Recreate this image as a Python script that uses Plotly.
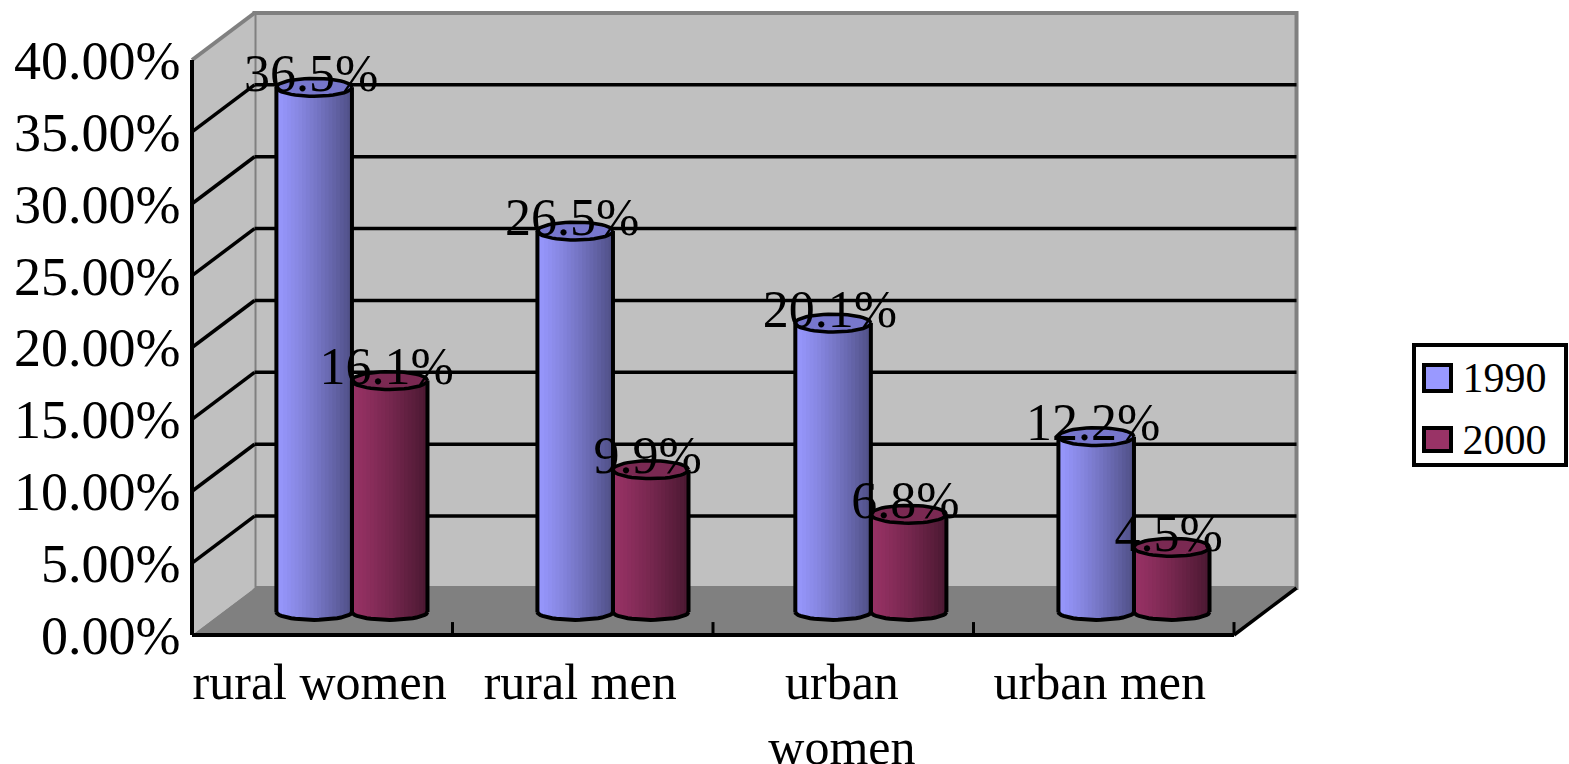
import numpy as np
import plotly.graph_objects as go

categories = ["rural women", "rural men", "urban<br>women", "urban men"]
values_1990 = [36.5, 26.5, 20.1, 12.2]
values_2000 = [16.1, 9.9, 6.8, 4.5]
labels_1990 = ["36.5%", "26.5%", "20.1%", "12.2%"]
labels_2000 = ["16.1%", "9.9%", "6.8%", "4.5%"]
y_ticks = [0, 5, 10, 15, 20, 25, 30, 35, 40]
y_tick_labels = ["0.00%", "5.00%", "10.00%", "15.00%", "20.00%", "25.00%", "30.00%", "35.00%", "40.00%"]
series_names = ["1990", "2000"]
series_colors = ["#9999ff", "#993366"]

W, H = 1569, 764
PX_CAT, PX_PCT = 260.5, 14.375
X0, Y0 = 192, 635
DC, DP = 0.24, 3.27          # depth of the fake 3-D box
BASE = 1.6                   # cylinders stand mid-floor
BAR_W = 0.29
SPLIT = [0.614, 1.616, 2.606, 3.616]
RY_BASE, RY_CAP = 0.55, 0.62
FONT = "Liberation Serif"
N = 20
t = (np.arange(N) + 0.5) / N


def ramp(c0, c1):
    return ["rgb(%d,%d,%d)" % tuple(np.array(c0) + (np.array(c1) - np.array(c0)) * v ** 1.2) for v in t]


fig = go.Figure()

shapes = []
poly = lambda pts, **k: dict(type="path", xref="x", yref="y", layer="below",
                             path="M" + " L".join(f"{a},{b}" for a, b in pts) + " Z", **k)
line = lambda a, b, c, d, col="black", w=3.5: dict(type="line", xref="x", yref="y", layer="below",
                                                   x0=a, y0=b, x1=c, y1=d, line=dict(color=col, width=w))
top = y_ticks[-1]
shapes.append(poly([(DC, DP), (DC, top + DP), (4 + DC, top + DP), (4 + DC, DP)],
                   fillcolor="#c0c0c0", line=dict(color="#808080", width=4)))
shapes.append(poly([(0, 0), (0, top), (DC, top + DP), (DC, DP)],
                   fillcolor="#c0c0c0", line=dict(width=0)))
shapes.append(line(0, top, DC, top + DP, "#808080", 4))
shapes.append(poly([(0, 0), (DC, DP), (4 + DC, DP), (4, 0)],
                   fillcolor="#808080", line=dict(width=0)))
for v in y_ticks[1:-1]:
    shapes.append(line(DC, v + DP, 4 + DC, v + DP))
for v in y_ticks[:-1]:
    if v:
        shapes.append(line(0, v, DC, v + DP))
shapes.append(line(0, 0, 0, top, w=4))
shapes.append(line(0, 0, 4, 0, w=4))
shapes.append(line(4, 0, 4 + DC, DP))
for c in range(1, 5):
    shapes.append(line(c, 0, c, 0.9, w=3))

# legend frame and swatches sit under the legend's own text and (capped-size) markers
shapes.append(dict(type="rect", xref="paper", yref="paper", layer="above",
                   x0=1414 / W, x1=1566 / W, y0=1 - 465 / H, y1=1 - 345 / H,
                   fillcolor="white", line=dict(color="black", width=4)))
for (y0, y1), col in zip([(365, 391), (428, 451)], series_colors):
    shapes.append(dict(type="rect", xref="paper", yref="paper", layer="above",
                       x0=1424 / W, x1=1451 / W, y0=1 - y1 / H, y1=1 - y0 / H,
                       fillcolor=col, line=dict(color="black", width=4)))


def cylinder(lefts, vals, c0, c1):
    xs, bases, heights, cols = [], [], [], []
    shades = ramp(c0, c1)
    for l, v in zip(lefts, vals):
        for k in range(N):
            drop = RY_BASE * np.sqrt(1 - (2 * t[k] - 1) ** 2)
            xs.append(l + BAR_W * t[k])
            bases.append(BASE - drop)
            heights.append(v + drop)
            cols.append(shades[k])
    fig.add_trace(go.Bar(x=xs, y=heights, base=bases, width=BAR_W / N * 1.35,
                         marker=dict(color=cols, line=dict(width=0)),
                         showlegend=False, hoverinfo="skip"))


lefts_1990 = [s - BAR_W for s in SPLIT]
lefts_2000 = list(SPLIT)
cylinder(lefts_1990, values_1990, (153, 153, 255), (80, 80, 135))
cylinder(lefts_2000, values_2000, (153, 51, 102), (75, 25, 50))

th = np.linspace(0, np.pi, 25)
th2 = np.linspace(0, 2 * np.pi, 49)
for lefts, vals, cap in [(lefts_1990, values_1990, "#7777cc"), (lefts_2000, values_2000, "#7a2952")]:
    ox, oy = [], []
    for l, v in zip(lefts, vals):
        cx = l + BAR_W / 2
        ox += list(cx + BAR_W / 2 * np.cos(th)) + [None]
        oy += list(BASE - RY_BASE * np.sin(th)) + [None]
        ox += [l, l, None, l + BAR_W, l + BAR_W, None]
        oy += [BASE, BASE + v, None, BASE, BASE + v, None]
    fig.add_trace(go.Scatter(x=ox, y=oy, mode="lines", line=dict(color="black", width=4),
                             showlegend=False, hoverinfo="skip", connectgaps=False))
    for l, v in zip(lefts, vals):
        cx = l + BAR_W / 2
        fig.add_trace(go.Scatter(x=cx + BAR_W / 2 * np.cos(th2), y=BASE + v + RY_CAP * np.sin(th2),
                                 mode="lines", fill="toself", fillcolor=cap,
                                 line=dict(color="black", width=3.5),
                                 showlegend=False, hoverinfo="skip"))

for lefts, vals, labs in [(lefts_1990, values_1990, labels_1990), (lefts_2000, values_2000, labels_2000)]:
    fig.add_trace(go.Scatter(x=[l + BAR_W / 2 - 0.012 for l in lefts], y=[BASE + v + 0.65 for v in vals],
                             mode="text", text=labs, textposition="middle center",
                             textfont=dict(family=FONT, size=52, color="black"),
                             showlegend=False, hoverinfo="skip"))

for name, col in zip(series_names, series_colors):
    fig.add_trace(go.Scatter(x=[None], y=[None], mode="markers", name=name, legendgroup=name,
                             marker=dict(symbol="square", size=14, color=col, line=dict(width=0))))

fig.update_layout(
    width=W, height=H, margin=dict(l=0, r=0, t=0, b=0, autoexpand=False),
    paper_bgcolor="white", plot_bgcolor="white", barmode="overlay",
    shapes=shapes, showlegend=True,
    legend=dict(x=1411.5 / W, xanchor="left", y=1 - 342 / H, yanchor="top",
                bgcolor="rgba(0,0,0,0)", borderwidth=0,
                font=dict(family=FONT, size=42, color="black"),
                tracegroupgap=4, itemsizing="trace", itemwidth=41,
                entrywidth=92, entrywidthmode="pixels"),
    xaxis=dict(range=[-X0 / PX_CAT, (W - X0) / PX_CAT], domain=[0, 1], anchor="free",
               position=(H - Y0) / H, tickvals=[0.49, 1.49, 2.495, 3.485], ticktext=categories,
               ticks="", showgrid=False, zeroline=False, showline=False, tickangle=0,
               ticklabelstandoff=13, tickfont=dict(family=FONT, size=50, color="black")),
    yaxis=dict(range=[-(H - Y0) / PX_PCT, Y0 / PX_PCT], domain=[0, 1], anchor="free",
               position=X0 / W - 0.001, tickvals=y_ticks, ticktext=y_tick_labels,
               ticks="", showgrid=False, zeroline=False, showline=False,
               ticklabelstandoff=10, tickfont=dict(family=FONT, size=54, color="black")),
)
fig.write_html("out.html", config=dict(displayModeBar=False),
               post_script="document.body.style.margin='0';document.body.style.overflow='hidden';")
